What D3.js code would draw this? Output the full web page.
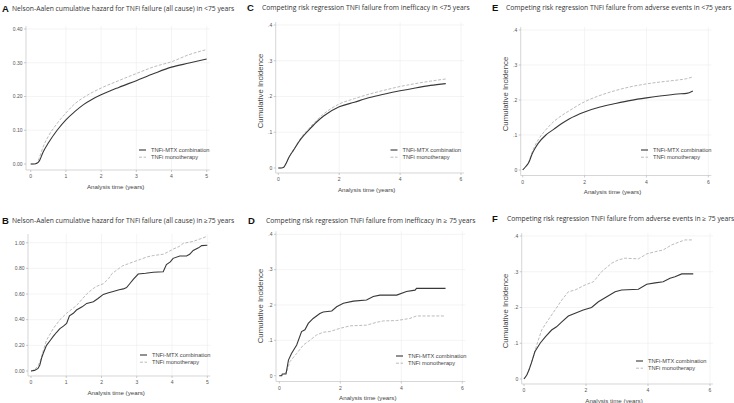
<!DOCTYPE html>
<html>
<head>
<meta charset="utf-8">
<script src="https://cdn.jsdelivr.net/npm/d3@7"></script>
<style>
  body { margin: 0; background: #fff; }
  svg { display: block; }
</style>
</head>
<body>
<svg id="chart" width="734" height="403"></svg>
<script>
// ---- data ----
// A: Nelson-Aalen, <75 years
const aTime  = [0, 0.1, 0.18, 0.25, 0.35, 0.5, 0.75, 1, 1.25, 1.5, 1.75, 2, 2.5, 3, 3.5, 4, 4.5, 5];
const aCombo = [0, 0, 0.002, 0.01, 0.035, 0.062, 0.10, 0.131, 0.155, 0.176, 0.192, 0.205, 0.227, 0.247, 0.268, 0.287, 0.299, 0.311];
const aMono  = [0, 0, 0.004, 0.02, 0.05, 0.082, 0.12, 0.151, 0.178, 0.197, 0.212, 0.225, 0.247, 0.268, 0.288, 0.303, 0.324, 0.339];

// B: Nelson-Aalen, >=75 years
const bComboTime = [0, 0.1, 0.2, 0.25, 0.3, 0.35, 0.44, 0.55, 0.63, 0.72, 0.82, 0.92, 1.01, 1.09, 1.2, 1.29, 1.45, 1.58, 1.77, 1.9, 2.05, 2.2, 2.33, 2.5, 2.62, 2.71, 2.8, 2.9, 3.04, 3.25, 3.47, 3.75, 3.84, 3.95, 4.03, 4.22, 4.41, 4.5, 4.6, 4.75, 4.84, 5];
const bCombo     = [0, 0.005, 0.02, 0.047, 0.1, 0.14, 0.2, 0.24, 0.27, 0.3, 0.33, 0.35, 0.37, 0.43, 0.45, 0.475, 0.5, 0.527, 0.54, 0.565, 0.597, 0.61, 0.62, 0.633, 0.64, 0.65, 0.68, 0.714, 0.756, 0.762, 0.77, 0.774, 0.83, 0.85, 0.878, 0.896, 0.896, 0.91, 0.94, 0.96, 0.977, 0.98];
const bMonoTime  = [0, 0.1, 0.2, 0.25, 0.35, 0.44, 0.63, 0.82, 1.01, 1.29, 1.45, 1.58, 1.75, 1.86, 2.05, 2.2, 2.3, 2.5, 2.6, 2.9, 3.1, 3.3, 3.47, 3.75, 3.9, 4.03, 4.2, 4.32, 4.6, 4.8, 5];
const bMono      = [0, 0.01, 0.04, 0.07, 0.16, 0.24, 0.33, 0.40, 0.45, 0.51, 0.56, 0.60, 0.64, 0.66, 0.68, 0.72, 0.76, 0.80, 0.82, 0.85, 0.87, 0.89, 0.90, 0.91, 0.93, 0.95, 0.97, 0.995, 1.01, 1.03, 1.05];

// C: inefficacy, <75 years
const cTime  = [0, 0.1, 0.18, 0.25, 0.35, 0.5, 0.75, 1, 1.25, 1.5, 2, 2.5, 3, 3.5, 4, 4.5, 5, 5.5];
const cCombo = [0, 0, 0.002, 0.012, 0.03, 0.05, 0.082, 0.106, 0.128, 0.146, 0.171, 0.184, 0.197, 0.207, 0.216, 0.224, 0.231, 0.236];
const cMono  = [0, 0, 0.002, 0.012, 0.03, 0.051, 0.085, 0.11, 0.133, 0.152, 0.179, 0.194, 0.207, 0.218, 0.228, 0.236, 0.243, 0.249];

// D: inefficacy, >=75 years
const dComboTime = [0, 0.08, 0.1, 0.22, 0.3, 0.4, 0.57, 0.73, 0.84, 0.95, 1.11, 1.33, 1.44, 1.72, 1.88, 2.1, 2.43, 2.86, 3.08, 3.3, 3.85, 4.17, 4.45, 4.5, 5.45];
const dCombo     = [0, 0, 0.005, 0.005, 0.044, 0.063, 0.087, 0.125, 0.13, 0.148, 0.162, 0.176, 0.18, 0.183, 0.195, 0.205, 0.211, 0.214, 0.224, 0.228, 0.228, 0.238, 0.242, 0.247, 0.247];
const dMonoTime  = [0, 0.1, 0.24, 0.35, 0.57, 0.79, 1.0, 1.22, 1.44, 1.66, 1.99, 2.32, 2.86, 3.19, 3.41, 3.85, 4.28, 4.5, 5.45];
const dMono      = [0, 0.002, 0.011, 0.04, 0.063, 0.087, 0.10, 0.115, 0.123, 0.125, 0.134, 0.141, 0.143, 0.151, 0.155, 0.156, 0.162, 0.169, 0.169];

// E: adverse events, <75 years
const eTime  = [0, 0.1, 0.2, 0.3, 0.4, 0.5, 0.75, 1, 1.25, 1.5, 2, 2.5, 3, 3.5, 4, 4.5, 5, 5.3, 5.5];
const eCombo = [0, 0.01, 0.022, 0.045, 0.062, 0.076, 0.10, 0.116, 0.132, 0.146, 0.166, 0.180, 0.190, 0.199, 0.206, 0.212, 0.217, 0.219, 0.226];
const eMono  = [0, 0.01, 0.024, 0.05, 0.07, 0.086, 0.115, 0.138, 0.155, 0.169, 0.195, 0.213, 0.227, 0.238, 0.246, 0.252, 0.257, 0.261, 0.266];

// F: adverse events, >=75 years
const fComboTime = [0, 0.09, 0.16, 0.25, 0.35, 0.52, 0.68, 0.89, 1.05, 1.22, 1.43, 1.65, 1.91, 2.18, 2.4, 2.67, 2.94, 3.15, 3.69, 3.96, 4.23, 4.49, 4.71, 4.87, 5.09, 5.46];
const fCombo     = [0, 0.011, 0.025, 0.048, 0.076, 0.1, 0.117, 0.137, 0.146, 0.16, 0.176, 0.184, 0.193, 0.2, 0.216, 0.23, 0.244, 0.249, 0.251, 0.265, 0.269, 0.272, 0.282, 0.286, 0.294, 0.294];
const fMonoTime  = [0, 0.1, 0.19, 0.3, 0.41, 0.57, 0.78, 1.0, 1.22, 1.43, 1.65, 1.97, 2.24, 2.5, 2.83, 3.04, 3.26, 3.69, 3.96, 4.23, 4.49, 4.76, 5.03, 5.19, 5.46];
const fMono      = [0, 0.012, 0.034, 0.062, 0.095, 0.137, 0.165, 0.193, 0.221, 0.244, 0.249, 0.263, 0.272, 0.3, 0.324, 0.333, 0.338, 0.336, 0.35, 0.356, 0.361, 0.375, 0.384, 0.389, 0.389];

const legendLabels = ["TNFi-MTX combination", "TNFi monotherapy"];
const naTicks = [0, 0.1, 0.2, 0.3, 0.4];
const naTicksB = [0, 0.2, 0.4, 0.6, 0.8, 1.0];
const ciTicks = [0, 0.1, 0.2, 0.3, 0.4];
const xTicks5 = [0, 1, 2, 3, 4, 5];
const xTicks6 = [0, 2, 4, 6];

const zip = (t, v) => t.map((x, i) => [x, v[i]]);
const ciFmt = d => d === 0 ? "0" : d3.format(".1f")(d).replace(/^0/, "");

// panel layout (pixels) + which data goes where
const panels = [
  { letter: "A", title: "Nelson-Aalen cumulative hazard for TNFi failure (all cause) in <75 years",
    lx: 2, tx: 12, ty: 11, axX: 26, x0: 30.7, x1: 206.7, xMax: 5, y0: 164, y1: 29, yMax: 0.4, axY: 170,
    xt: xTicks5, yt: naTicks, fmt: d3.format(".2f"), ytitle: null, legX: 139, legY: 150,
    combo: zip(aTime, aCombo), mono: zip(aTime, aMono), smooth: true },
  { letter: "B", title: "Nelson-Aalen cumulative hazard for TNFi failure (all cause) in \u226575 years",
    lx: 2, tx: 12, ty: 223, axX: 28, x0: 31, x1: 207.3, xMax: 5, y0: 371, y1: 242.7, yMax: 1.0, axY: 376, top: 234,
    xt: xTicks5, yt: naTicksB, fmt: d3.format(".2f"), ytitle: null, legX: 140, legY: 355,
    combo: zip(bComboTime, bCombo), mono: zip(bMonoTime, bMono), smooth: false },
  { letter: "C", title: "Competing risk regression TNFi failure from inefficacy in <75 years",
    lx: 247, tx: 262, ty: 10, axX: 275.7, x0: 278.3, x1: 461, xMax: 6, y0: 168, y1: 25, yMax: 0.4, axY: 173,
    xt: xTicks6, yt: ciTicks, fmt: ciFmt, ytitle: [260, 91], legX: 390.5, legY: 150,
    combo: zip(cTime, cCombo), mono: zip(cTime, cMono), smooth: true },
  { letter: "D", title: "Competing risk regression TNFi failure from inefficacy in \u2265 75 years",
    lx: 248, tx: 266, ty: 223, axX: 276, x0: 279.3, x1: 462.3, xMax: 6, y0: 375.7, y1: 234.3, yMax: 0.4, axY: 381.5,
    xt: xTicks6, yt: ciTicks, fmt: ciFmt, ytitle: [260, 306], legX: 396, legY: 356,
    combo: zip(dComboTime, dCombo), mono: zip(dMonoTime, dMono), smooth: false },
  { letter: "E", title: "Competing risk regression TNFi failure from adverse events in <75 years",
    lx: 492, tx: 506, ty: 10, axX: 520.7, x0: 522.7, x1: 708.3, xMax: 6, y0: 170, y1: 30, yMax: 0.4, axY: 175.5,
    xt: xTicks6, yt: ciTicks, fmt: ciFmt, ytitle: [505, 94], legX: 641, legY: 150,
    combo: zip(eTime, eCombo), mono: zip(eTime, eMono), smooth: true },
  { letter: "F", title: "Competing risk regression TNFi failure from adverse events in \u2265 75 years",
    lx: 492, tx: 507, ty: 221, axX: 521.7, x0: 524, x1: 710, xMax: 6, y0: 379, y1: 236, yMax: 0.4, axY: 384,
    xt: xTicks6, yt: ciTicks, fmt: ciFmt, ytitle: [505, 311], legX: 636, legY: 361,
    combo: zip(fComboTime, fCombo), mono: zip(fMonoTime, fMono), smooth: false }
];

const svg = d3.select("#chart");
const textFont = "'Liberation Sans', Arial, sans-serif";
const titleFont = "'Open Sans', 'Liberation Sans', sans-serif";

panels.forEach(p => {
  const g = svg.append("g");
  const x = d3.scaleLinear().domain([0, p.xMax]).range([p.x0, p.x1]);
  const y = d3.scaleLinear().domain([0, p.yMax]).range([p.y0, p.y1]);
  const top = p.top !== undefined ? p.top : p.y1 - 3;
  const right = p.x1 + 3;

  // titles
  g.append("text").attr("x", p.lx).attr("y", p.ty + 1)
    .attr("font-family", textFont).attr("font-weight", "bold").attr("font-size", 9.5)
    .attr("fill", "#111").text(p.letter);
  g.append("text").attr("x", p.tx).attr("y", p.ty)
    .attr("font-family", titleFont).attr("font-size", 6.75)
    .attr("fill", "#333").text(p.title);

  // grid
  g.append("g").selectAll("line").data(p.xt.filter(d => d > 0)).join("line")
    .attr("x1", d => x(d)).attr("x2", d => x(d)).attr("y1", top).attr("y2", p.axY)
    .attr("stroke", "#ececec").attr("stroke-width", 0.6);
  g.append("g").selectAll("line").data(p.yt.filter(d => d > 0)).join("line")
    .attr("x1", p.axX).attr("x2", right).attr("y1", d => y(d)).attr("y2", d => y(d))
    .attr("stroke", "#ececec").attr("stroke-width", 0.6);

  // axes
  g.append("line").attr("x1", p.axX).attr("x2", p.axX).attr("y1", top).attr("y2", p.axY)
    .attr("stroke", "#c4c4c4").attr("stroke-width", 0.7);
  g.append("line").attr("x1", p.axX).attr("x2", right).attr("y1", p.axY).attr("y2", p.axY)
    .attr("stroke", "#c4c4c4").attr("stroke-width", 0.7);

  g.append("g").selectAll("line").data(p.yt).join("line")
    .attr("x1", p.axX - 2).attr("x2", p.axX).attr("y1", d => y(d)).attr("y2", d => y(d))
    .attr("stroke", "#aaa").attr("stroke-width", 0.6);
  g.append("g").selectAll("text").data(p.yt).join("text")
    .attr("x", p.axX - 3.5).attr("y", d => y(d) + 1.8).attr("text-anchor", "end")
    .attr("font-family", textFont).attr("font-size", 5.0).attr("fill", "#555")
    .text(p.fmt);

  g.append("g").selectAll("line").data(p.xt).join("line")
    .attr("x1", d => x(d)).attr("x2", d => x(d)).attr("y1", p.axY).attr("y2", p.axY + 2)
    .attr("stroke", "#aaa").attr("stroke-width", 0.6);
  g.append("g").selectAll("text").data(p.xt).join("text")
    .attr("x", d => x(d)).attr("y", p.axY + 8).attr("text-anchor", "middle")
    .attr("font-family", textFont).attr("font-size", 5.0).attr("fill", "#555")
    .text(d => d);

  g.append("text").attr("x", (p.x0 + p.x1) / 2 - 3).attr("y", p.axY + 18.5).attr("text-anchor", "middle")
    .attr("font-family", textFont).attr("font-size", 6.2).attr("fill", "#444")
    .text("Analysis time (years)");

  if (p.ytitle) {
    g.append("text").attr("transform", `translate(${p.ytitle[0] + 2.5},${p.ytitle[1]}) rotate(-90)`)
      .attr("text-anchor", "middle")
      .attr("font-family", textFont).attr("font-size", 7.8).attr("fill", "#444")
      .text("Cumulative Incidence");
  }

  // curves
  const line = d3.line().x(d => x(d[0])).y(d => y(d[1]))
    .curve(p.smooth ? d3.curveMonotoneX : d3.curveLinear);
  g.append("path").attr("d", line(p.mono)).attr("fill", "none")
    .attr("stroke", "#b3b3b3").attr("stroke-width", 0.9).attr("stroke-dasharray", "3,1.6");
  g.append("path").attr("d", line(p.combo)).attr("fill", "none")
    .attr("stroke", "#383838").attr("stroke-width", 1.1);

  // legend
  const leg = g.append("g");
  legendLabels.forEach((lab, i) => {
    const ly = p.legY + i * 7.2;
    leg.append("line").attr("x1", p.legX).attr("x2", p.legX + 7).attr("y1", ly).attr("y2", ly)
      .attr("stroke", i === 0 ? "#383838" : "#b3b3b3").attr("stroke-width", i === 0 ? 1.1 : 0.9)
      .attr("stroke-dasharray", i === 0 ? null : "3,1.6");
    leg.append("text").attr("x", p.legX + 12).attr("y", ly + 1.8)
      .attr("font-family", textFont).attr("font-size", 5.7).attr("fill", "#444")
      .text(lab);
  });
});
</script>
</body>
</html>
